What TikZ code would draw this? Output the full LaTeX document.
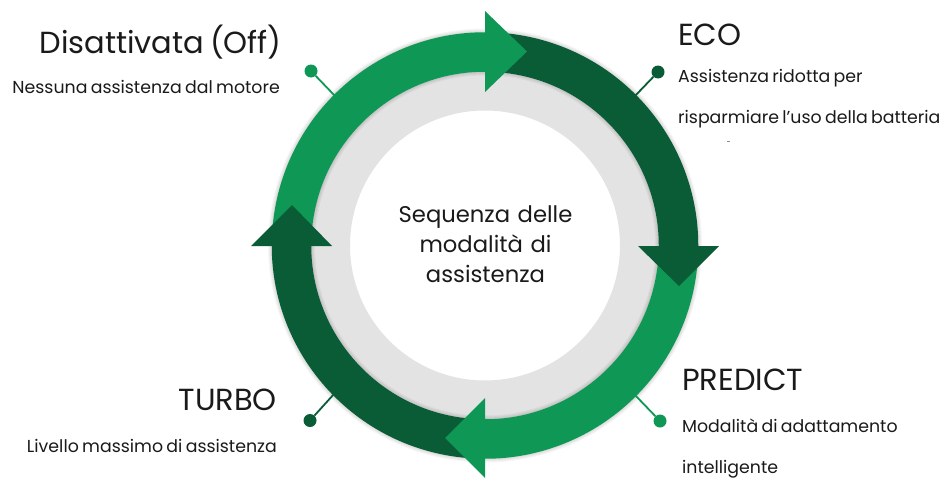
\documentclass[tikz,border=0pt]{standalone}
\usepackage{fontspec}
\setmainfont{Poppins}[WordSpace=0.72]
\definecolor{lightg}{HTML}{0F9855}
\definecolor{darkg}{HTML}{0A5C36}
\definecolor{greyring}{HTML}{E3E3E3}
\definecolor{txt}{HTML}{1A1A1A}
\usetikzlibrary{calc}
\tikzset{
  x=1pt,y=-1pt,
  band/.style={line width=39.5pt,line cap=butt},
  shadering/.style={line width=#1,draw=black,opacity=.035},
  head/.style={fill=#1,draw=none},
  dotn/.style={circle,fill=#1,inner sep=0pt,minimum size=13pt},
  stem/.style={draw=#1,line width=1.8pt},
  big/.style={font=\fontsize{30.5}{32}\selectfont,text=txt,inner sep=0pt},
  small/.style={font=\fontsize{17.35}{20}\selectfont,text=txt,inner sep=0pt},
  centre/.style={font=\fontsize{22.7}{30}\selectfont,text=txt,inner sep=0pt,align=center,text width=220pt},
}
\begin{document}
\begin{tikzpicture}
\useasboundingbox (0,0) rectangle (948,479);
\fill[white] (0,0) rectangle (948,479);
\coordinate (c) at (485,245.5);
% grey ring
\draw[greyring,line width=39pt] (c) circle[radius=154.5pt];
% soft shadow
\draw[shadering=41pt] (c) circle[radius=193.5pt];
\draw[shadering=43pt] (c) circle[radius=193.5pt];
\draw[shadering=45pt] (c) circle[radius=193.5pt];
\draw[shadering=47pt] (c) circle[radius=193.5pt];
% connectors and dots
\node[dotn=lightg] (d1) at (311,71) {};
\node[dotn=darkg] (d2) at (658,72) {};
\node[dotn=lightg] (d3) at (660,421) {};
\node[dotn=darkg] (d4) at (310,420.5) {};
\coordinate (r1) at (336,97);
\coordinate (r2) at (634,97);
\coordinate (r3) at (634,394);
\coordinate (r4) at (334,394);
\draw[stem=lightg] (d1) -- (r1);
\draw[stem=darkg] (d2) -- (r2);
\draw[stem=lightg] (d3) -- (r3);
\draw[stem=darkg] (d4) -- (r4);
% ring arcs: both ends hidden under the arrow heads
\draw[band,draw=lightg] ([shift={(175:193.5pt)}]c) arc[start angle=175,end angle=85,radius=193.5pt];
\draw[band,draw=darkg] ([shift={(85:193.5pt)}]c) arc[start angle=85,end angle=-5,radius=193.5pt];
\draw[band,draw=lightg] ([shift={(-5:193.5pt)}]c) arc[start angle=-5,end angle=-95,radius=193.5pt];
\draw[band,draw=darkg] ([shift={(-95:193.5pt)}]c) arc[start angle=-95,end angle=-185,radius=193.5pt];
% arrow heads
\path[head=lightg] (485,11) -- (527,51.5) -- (485,92) -- cycle;
\path[head=darkg] (638,246) -- (719,246) -- (679,286) -- cycle;
\path[head=lightg] (485,398) -- (445,438) -- (485,478) -- cycle;
\path[head=darkg] (251,246) -- (332,246) -- (292,205) -- cycle;
% texts
\node[big,anchor=base east] (t1) at (282,53) {Disattivata (Off)};
\node[small,anchor=base east] (s1) at (280,93) {Nessuna assistenza dal motore};
\node[big,anchor=base west] (t2) at (678,45) {ECO};
\node[small,anchor=base west] (s2a) at (678,82) {Assistenza ridotta per};
\node[small,anchor=base west] (s2b) at (678,123) {risparmiare l'uso della batteria};
\node[big,anchor=base west] (t3) at (682,390) {PREDICT};
\node[small,anchor=base west] (s3a) at (682,432) {Modalità di adattamento};
\node[small,anchor=base west] (s3b) at (682,473) {intelligente};
\node[big,anchor=base east] (t4) at (277,410) {TURBO};
\node[small,anchor=base east] (s4) at (277,452) {Livello massimo di assistenza};
\node[centre,anchor=base] (m1) at (485.5,222) {Sequenza delle\\modalità di\\assistenza};
\draw[black!45,line width=.7pt] (727,141.5) -- (730,141.5);
\end{tikzpicture}
\end{document}
